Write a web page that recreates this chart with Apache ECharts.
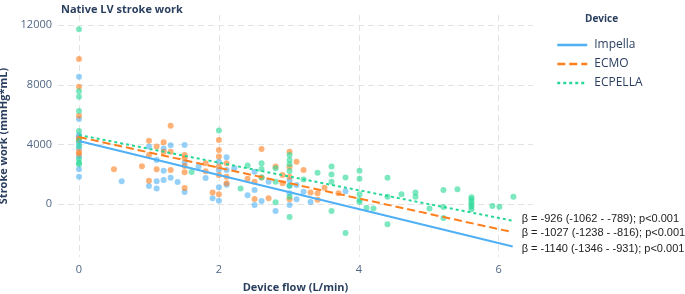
<!DOCTYPE html>
<html>
<head>
<meta charset="utf-8">
<script src="https://cdn.jsdelivr.net/npm/echarts@6.0.0/dist/echarts.min.js"></script>
<style>
  html, body { margin: 0; padding: 0; background: #fff; }
  #root { width: 685px; height: 294px; }
</style>
</head>
<body>
<div id="root"></div>
<script>
// points: [device flow L/min, stroke work mmHg*mL]
const impellaPts = [
  [0, 8540], [0, 5710], [0, 4640], [0, 4500], [0, 4080], [0, 3750], [0, 3190], [0, 2340], [0, 1850],
  [0.61, 1540], [1.0, 3860], [1.0, 1230], [1.11, 2960], [1.11, 1540], [1.11, 1050],
  [1.21, 3730], [1.21, 2250], [1.21, 1630], [1.31, 3950], [1.31, 1780], [1.41, 1490],
  [1.51, 3970], [1.51, 2790], [1.51, 820], [1.71, 2520], [1.81, 1760], [1.91, 400],
  [2.0, 2850], [2.0, 2300], [2.0, 1140], [2.0, 240], [2.11, 3145], [2.11, 2300], [2.11, 1300],
  [2.22, 2410], [2.41, 600], [2.51, 2180], [2.51, 955], [2.51, -50], [2.61, 220], [2.71, 1510],
  [2.81, -450], [3.01, 1600], [3.01, 1240], [3.01, 740], [3.01, -50], [3.11, 1290], [3.11, 330],
  [3.21, 845], [3.31, 150], [3.81, 870]
]
const ecmoPts = [
  [0, 9725], [0, 7870], [0, 5930], [0, 4415], [0, 4300], [0, 3520], [0, 3370],
  [0.5, 2340], [0.9, 2540], [1.0, 4260], [1.0, 3300], [1.0, 1580], [1.11, 3860], [1.11, 2340],
  [1.21, 4150], [1.21, 3520], [1.31, 5260], [1.31, 3520], [1.31, 2295], [1.51, 3300], [1.51, 3080],
  [1.51, 2560], [1.51, 2140], [1.51, 1090], [1.81, 2740], [1.81, 2210], [1.91, 780],
  [2.0, 4300], [2.0, 3630], [2.0, 3190], [2.0, 2520], [2.0, 1960], [2.0, 670],
  [2.11, 2740], [2.11, 1850], [2.11, 1400], [2.41, 1700], [2.51, 1500], [2.51, 355],
  [2.61, 3700], [2.61, 1800], [2.71, 400], [2.81, 2520], [2.91, 1960], [2.91, 1400],
  [3.01, 3520], [3.01, 2500], [3.01, 1850], [3.01, 340], [3.11, 2850], [3.21, 2300],
  [3.31, 780], [3.41, 730], [3.41, 300], [3.51, 1110], [3.71, 730]
]
const ecpellaPts = [
  [0, 11713], [0, 7560], [0, 7200], [0, 6245], [0, 4905], [0, 4260], [0, 3900], [0, 3010], [0, 2785], [0, 2680],
  [1.61, 2160], [2.0, 4930], [2.31, 1050], [2.41, 2600], [2.61, 2740], [2.61, 2360], [2.61, 1800],
  [2.81, 2410], [2.81, 1510], [2.81, 140], [3.01, 3300], [3.01, 2965], [3.01, 2680], [3.01, 2230],
  [3.01, 1240], [3.01, 510], [3.01, -850], [3.21, 1650], [3.41, 2115], [3.61, 2520], [3.61, 2000],
  [3.61, 1510], [3.61, -450], [3.81, 1800], [3.81, -1920], [4.01, 2240], [4.01, 1715], [4.01, 670],
  [4.01, 290], [4.01, 150], [4.11, -230], [4.21, -290], [4.41, 1780], [4.41, 510], [4.41, -1340],
  [4.61, 670], [4.81, 780], [4.81, 510], [5.01, -290], [5.21, 960], [5.21, -180], [5.21, -920],
  [5.41, 1000], [5.61, 470], [5.61, 330], [5.61, 150], [5.61, -10], [5.61, -170], [5.61, -330],
  [5.91, -110], [6.01, -160], [6.21, 510]
]

// regression line ends
const impellaFit = [[0, 4240], [6.2, -2830]]
const ecmoFit = [[0, 4500], [6.2, -1870]]
const ecpellaFit = [[0, 4640], [6.2, -1100]]

const devices = ['Impella', 'ECMO', 'ECPELLA']
const betaLabels = [
  'β = -1140 (-1346 - -931); p<0.001',
  'β = -1027 (-1238 - -816); p<0.001',
  'β = -926 (-1062 - -789); p<0.001'
]
const xTicks = [0, 2, 4, 6]
const yTicks = [0, 4000, 8000, 12000]

const colors = ['#4fb0f5', '#ff7f1e', '#26d896']
const pts = [impellaPts, ecmoPts, ecpellaPts]
const fits = [impellaFit, ecmoFit, ecpellaFit]
const lineTypes = ['solid', [8, 4], [3, 3]]
const labelOffsets = [[0, 2], [0, 1], [0, -2]]

const txt = '#2a3f5f'
const tick = '#506784'
const grid = '#e3e3e3'

const chart = echarts.init(document.getElementById('root'))

const series = []
devices.forEach((d, i) => {
  series.push({
    name: d,
    type: 'line',
    data: fits[i],
    symbol: 'none',
    z: 5,
    lineStyle: { color: colors[i], width: 2, type: lineTypes[i] },
    itemStyle: { color: colors[i] },
    endLabel: {
      show: true,
      formatter: betaLabels[i],
      distance: 9,
      offset: labelOffsets[i],
      color: '#222',
      fontSize: 11,
      fontFamily: 'Liberation Sans'
    },
    silent: true
  })
})
devices.forEach((d, i) => {
  series.push({
    name: d + ' points',
    type: 'scatter',
    data: pts[i],
    symbolSize: 6,
    z: 2,
    itemStyle: { color: colors[i], opacity: 0.6 }
  })
})

chart.setOption({
  animation: false,
  textStyle: { fontFamily: 'Open Sans' },
  title: {
    text: 'Native LV stroke work',
    left: 56,
    top: -1,
    textStyle: { fontSize: 11, fontWeight: 'bold', color: txt }
  },
  legend: {
    data: devices,
    orient: 'vertical',
    left: 551,
    top: 34,
    itemWidth: 30,
    itemHeight: 14,
    itemGap: 7,
    itemStyle: { opacity: 0 },
    lineStyle: { width: 2.5 },
    textStyle: { fontSize: 12, color: txt, padding: [0, 0, 0, 2] }
  },
  graphic: [{
    type: 'text',
    left: 585,
    top: 14,
    style: { text: 'Device', font: 'bold 10px "Open Sans"', fill: txt }
  }],
  grid: { left: 58, right: 152, top: 15, bottom: 37, containLabel: false, outerBoundsMode: 'none' },
  xAxis: {
    type: 'value',
    min: -0.3,
    max: 6.49,
    name: 'Device flow (L/min)',
    nameLocation: 'middle',
    nameGap: 25,
    nameTextStyle: { fontSize: 11, fontWeight: 'bold', color: txt },
    axisLine: { show: false },
    axisTick: { show: false, customValues: xTicks },
    axisLabel: { customValues: xTicks, fontSize: 11, color: tick, margin: 7 },
    splitLine: { show: true, lineStyle: { color: grid, type: [6, 4], width: 1 } }
  },
  yAxis: {
    type: 'value',
    min: -3530,
    max: 12670,
    name: 'Stroke work (mmHg*mL)',
    nameLocation: 'middle',
    nameGap: 38,
    nameTextStyle: { fontSize: 11, fontWeight: 'bold', color: txt },
    axisLine: { show: false },
    axisTick: { show: false, customValues: yTicks },
    axisLabel: { customValues: yTicks, fontSize: 11, color: tick, margin: 6, formatter: v => String(v) },
    splitLine: { show: true, lineStyle: { color: grid, type: [6, 4], width: 1 } }
  },
  series
})
</script>
</body>
</html>
